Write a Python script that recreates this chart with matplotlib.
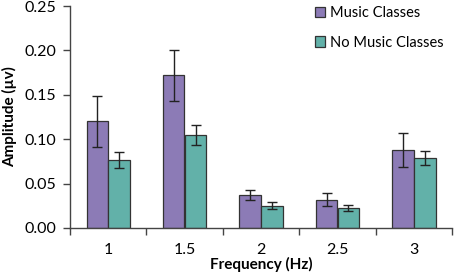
import numpy as np
import matplotlib
matplotlib.use('Agg')
import matplotlib.pyplot as plt
from matplotlib.ticker import FixedLocator

plt.rcParams['font.family'] = ['Lato', 'DejaVu Sans']

# Data
categories = ['1', '1.5', '2', '2.5', '3']
music = [0.120, 0.172, 0.037, 0.032, 0.088]
music_err = [0.029, 0.029, 0.006, 0.0075, 0.019]
no_music = [0.077, 0.105, 0.025, 0.0225, 0.079]
no_music_err = [0.009, 0.011, 0.004, 0.003, 0.008]

purple = '#8c7bb6'
teal = '#62b1a9'
edge = '#333333'

fig = plt.figure(figsize=(4.54, 2.75), dpi=100)
ax = fig.add_axes([0.154, 0.171, 0.842, 0.807])

x = np.arange(len(categories))
w = 0.28
off = 0.143
err_kw = dict(ecolor='#222222', elinewidth=1, capsize=3.5, capthick=1)
ax.bar(x - off, music, w, yerr=music_err, color=purple, edgecolor=edge,
       linewidth=0.9, label='Music Classes', error_kw=err_kw)
ax.bar(x + off, no_music, w, yerr=no_music_err, color=teal, edgecolor=edge,
       linewidth=0.9, label='No Music Classes', error_kw=err_kw)

ax.set_xlim(-0.5, len(categories) - 0.5)
ax.set_ylim(0, 0.25)
ax.set_yticks(np.arange(0, 0.26, 0.05))
ax.set_yticklabels([f'{v:.2f}' for v in np.arange(0, 0.26, 0.05)])
ax.set_xticks(x)
ax.set_xticklabels(categories)
ax.xaxis.set_minor_locator(FixedLocator(np.arange(-0.5, len(categories), 1.0)))
ax.tick_params(axis='x', which='major', length=0, pad=11, labelsize=11.5)
ax.tick_params(axis='x', which='minor', length=5, width=1, color='#444444')
ax.tick_params(axis='y', length=5, width=1, color='#444444', labelsize=11.5, pad=5)

for s in ['top', 'right']:
    ax.spines[s].set_visible(False)
for s in ['left', 'bottom']:
    ax.spines[s].set_color('#444444')
    ax.spines[s].set_linewidth(1)

ax.set_xlabel('Frequency (Hz)', fontweight='bold', fontsize=11, labelpad=0)
ax.set_ylabel('Amplitude (µv)', fontweight='bold', fontsize=11, labelpad=5)

leg = fig.legend(loc='upper left', bbox_to_anchor=(0.665, 1.025), frameon=False,
                 fontsize=10.5, handlelength=0.7, handleheight=0.7,
                 handletextpad=0.35, labelspacing=1.05)

plt.savefig('out.png', dpi=100)
